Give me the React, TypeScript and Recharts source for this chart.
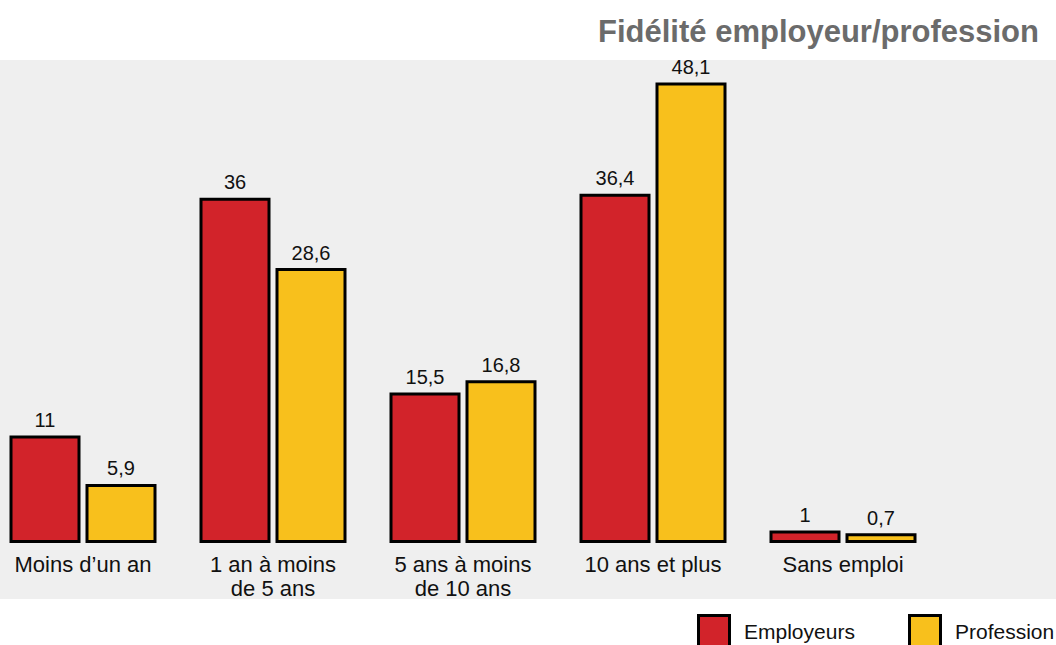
import React from 'react';
import { BarChart, Bar, XAxis, YAxis, LabelList, Legend } from 'recharts';

const categories = ['Moins d\u2019un an', '1 an à moins\nde 5 ans', '5 ans à moins\nde 10 ans', '10 ans et plus', 'Sans emploi'];
const employeurs = [11, 36, 15.5, 36.4, 1];
const profession = [5.9, 28.6, 16.8, 48.1, 0.7];
const seriesNames = ['Employeurs', 'Profession'];
const title = 'Fidélité employeur/profession';

const data = categories.map((c, i) => ({ cat: c, emp: employeurs[i], pro: profession[i] }));

const RED = '#d2232a';
const YELLOW = '#f8c01c';
const FONT = '"Liberation Sans", Arial, Helvetica, sans-serif';

const fmt = (v: any) => String(v).replace('.', ',');

const CategoryTick = (props: any) => {
  const { x, y, payload } = props;
  const lines = String(payload.value).split('\n');
  return (
    <text x={x} y={y} textAnchor="middle" fill="#111" fontSize={22} fontFamily={FONT}>
      {lines.map((l, i) => (
        <tspan key={i} x={x} dy={i === 0 ? 30.5 : 23.5}>{l}</tspan>
      ))}
    </text>
  );
};

const LegendContent = (props: any) => {
  const payload = props.payload || [];
  return (
    <div style={{ position: 'relative', width: 400, height: 40 }}>
      {payload.map((p: any, i: number) => (
        <div key={i} style={{ position: 'absolute', left: i * 211, top: 0, height: 40, width: 200 }}>
          <div style={{ position: 'absolute', left: 0, top: 0, width: 28, height: 28, background: p.color, border: '3px solid #000' }} />
          <div style={{ position: 'absolute', left: 47, top: 6, fontSize: 21, lineHeight: '24px', fontFamily: FONT, color: '#111', whiteSpace: 'nowrap' }}>{p.value}</div>
        </div>
      ))}
    </div>
  );
};

export default function App() {
  return (
    <div style={{ position: 'absolute', left: 0, top: 0, width: 1056, height: 645, overflow: 'hidden', background: '#fff' }}>
      <div style={{ position: 'absolute', left: 0, top: 60, width: 1056, height: 539, background: '#efefef' }} />
      <div style={{ position: 'absolute', right: 17, top: 16, fontSize: 31, lineHeight: '31px', fontWeight: 'bold', fontFamily: FONT, color: '#6b6b6b', whiteSpace: 'nowrap' }}>{title}</div>
      <div style={{ position: 'absolute', left: -12, top: 0 }}>
        <BarChart
          width={1080}
          height={645}
          data={data}
          margin={{ top: 66, right: 130, bottom: 43.5, left: 0 }}
          barSize={68}
          barGap={8}
        >
          <XAxis dataKey="cat" axisLine={false} tickLine={false} tickSize={0} tickMargin={0} height={60} interval={0} tick={<CategoryTick />} />
          <YAxis hide domain={[0, 50]} />
          <Legend
            layout="horizontal"
            verticalAlign="middle"
            align="center"
            wrapperStyle={{ left: 709, top: 614, width: 400, height: 40 }}
            content={<LegendContent />}
          />
          <Bar dataKey="emp" name={seriesNames[0]} fill={RED} stroke="#000" strokeWidth={3} isAnimationActive={false}>
            <LabelList dataKey="emp" position="top" offset={10} formatter={fmt} fill="#111" fontSize={20} fontFamily={FONT} />
          </Bar>
          <Bar dataKey="pro" name={seriesNames[1]} fill={YELLOW} stroke="#000" strokeWidth={3} isAnimationActive={false}>
            <LabelList dataKey="pro" position="top" offset={10} formatter={fmt} fill="#111" fontSize={20} fontFamily={FONT} />
          </Bar>
        </BarChart>
      </div>
    </div>
  );
}
